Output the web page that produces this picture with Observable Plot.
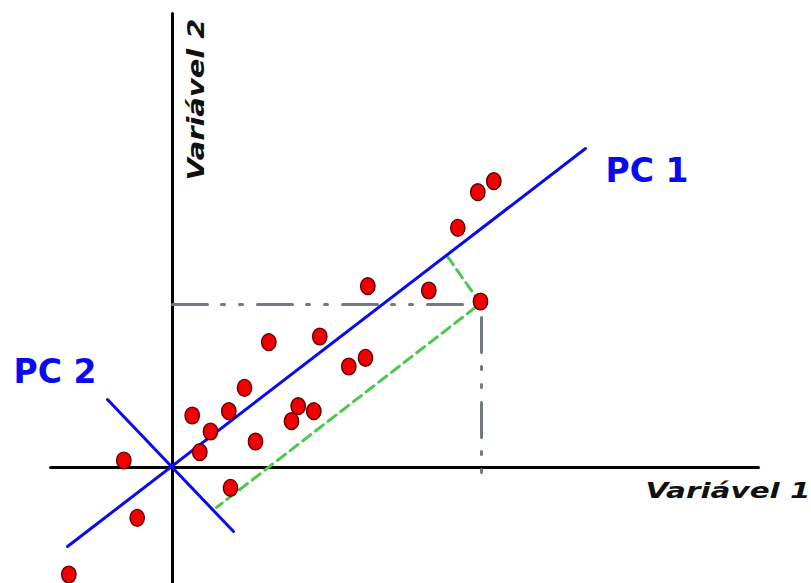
<!DOCTYPE html>
<html>
<head>
<meta charset="utf-8">
<script src="https://cdn.jsdelivr.net/npm/d3@7"></script>
<script src="https://cdn.jsdelivr.net/npm/@observablehq/plot@0.6"></script>
<style>
  html, body { margin: 0; padding: 0; background: #fff; }
  svg { display: block; }
</style>
</head>
<body>
<div id="chart"></div>
<script>
// Data (abstract units: origin at the crossing of the two axes)
const pointX = [1.97, 3.8, 2.73, 5.63, 7.2, 9.63, 8.3, 5.8, 11.9, 12.57, 14.13, 14.73, 17.63, 19.3, 19.53, 25.63, 30.8, 28.53, 30.53, 32.13, -4.87, -3.53, -10.37];
const pointY = [5.2, 3.6, 1.53, 5.63, 7.97, 12.53, 2.6, -2.03, 4.63, 6.13, 5.63, 13.1, 10.1, 10.97, 18.13, 17.7, 16.6, 23.97, 27.53, 28.63, 0.7, -5.03, -10.7];

const axis1X = [-12.2, 58.6], axis1Y = [0, 0];
const axis2X = [0, 0], axis2Y = [45.4, -11.6];

const pc1X = [-10.5, 41.3], pc1Y = [-7.9, 31.9];
const pc2X = [-6.5, 6.1], pc2Y = [6.8, -6.4];

const projX = [27.5, 30.8, 4.4], projY = [21.1, 16.4, -4.0];

const guideHX = [0, 29.3], guideHY = [16.3, 16.3];
const guideVX = [30.9, 30.9], guideVY = [15.0, -0.6];

const pcLabels = ["PC 1", "PC 2"];
const pcLabelX = [43.3, -15.9], pcLabelY = [28.6, 8.5];

const varLabels = ["Variável 1", "Variável 2"];

const seg = (xs, ys) => xs.map((x, i) => ({x, y: ys[i]}));

// Slightly tall ellipse symbol for the points
const ellipse = {
  draw(ctx, size) {
    const r = Math.sqrt(size / Math.PI);
    const rx = r * 0.92, ry = r * 1.08, k = 0.5523;
    ctx.moveTo(rx, 0);
    ctx.bezierCurveTo(rx, ry * k, rx * k, ry, 0, ry);
    ctx.bezierCurveTo(-rx * k, ry, -rx, ry * k, -rx, 0);
    ctx.bezierCurveTo(-rx, -ry * k, -rx * k, -ry, 0, -ry);
    ctx.bezierCurveTo(rx * k, -ry, rx, -ry * k, rx, 0);
    ctx.closePath();
  }
};

const blue = "#0a0af0";
const chart = Plot.plot({
  width: 811,
  height: 583,
  margin: 0,
  x: {domain: [-17.2, 63.9], axis: null},
  y: {domain: [-11.6, 46.7], axis: null},
  style: {background: "#fff"},
  marks: [
    Plot.line(seg(axis1X, axis1Y), {x: "x", y: "y", stroke: "#000", strokeWidth: 3}),
    Plot.line(seg(axis2X, axis2Y), {x: "x", y: "y", stroke: "#000", strokeWidth: 3}),
    Plot.line(seg(guideHX, guideHY), {x: "x", y: "y", stroke: "#6f7b80", strokeWidth: 3, strokeDasharray: "35,14,3,15,3,15"}),
    Plot.line(seg(guideVX, guideVY), {x: "x", y: "y", stroke: "#6f7b80", strokeWidth: 3, strokeDasharray: "35,14,3,15,3,15"}),
    Plot.line(seg(projX, projY), {x: "x", y: "y", stroke: "#4cc84c", strokeWidth: 3, strokeDasharray: "10,6"}),
    Plot.line(seg(pc1X, pc1Y), {x: "x", y: "y", stroke: blue, strokeWidth: 3}),
    Plot.line(seg(pc2X, pc2Y), {x: "x", y: "y", stroke: blue, strokeWidth: 3}),
    Plot.dot(seg(pointX, pointY), {x: "x", y: "y", r: 7.8, symbol: ellipse, fill: "#f00000", stroke: "#600000", strokeWidth: 1.4}),
    Plot.text(pcLabels, {x: pcLabelX, y: pcLabelY, text: d => d, textAnchor: "start", lineAnchor: "bottom",
      fill: blue, fontSize: 33, fontWeight: "bold", fontFamily: "DejaVu Sans"}),
    Plot.text([varLabels[0]], {x: [63.8], y: [-3.0], text: d => d, textAnchor: "end", lineAnchor: "bottom",
      fill: "#111", fontSize: 21, fontWeight: "bold", fontStyle: "italic", fontFamily: "DejaVu Sans"}),
    Plot.text([varLabels[1]], {x: [3.1], y: [28.7], text: d => d, textAnchor: "start", lineAnchor: "bottom", rotate: -90,
      fill: "#111", fontSize: 23, fontWeight: "bold", fontStyle: "italic", fontFamily: "DejaVu Sans"})
  ]
});
document.getElementById("chart").appendChild(chart);

// Stretch the axis titles to the width they take in the reference
d3.select(chart).selectAll("text").each(function() {
  const t = this.textContent;
  if (t === "Variável 1") { this.setAttribute("textLength", 165); this.setAttribute("lengthAdjust", "spacingAndGlyphs"); }
  if (t === "Variável 2") { this.setAttribute("textLength", 162); this.setAttribute("lengthAdjust", "spacingAndGlyphs"); }
});
</script>
</body>
</html>
